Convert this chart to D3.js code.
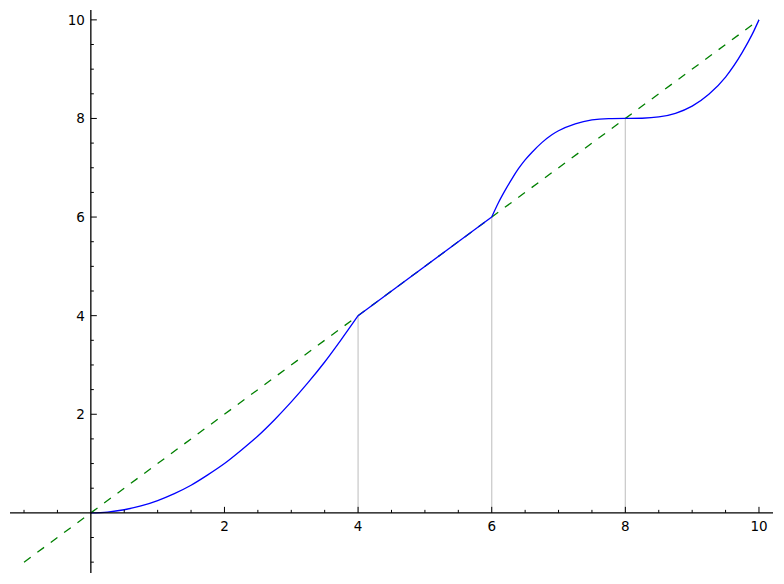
<!DOCTYPE html>
<html>
<head>
<meta charset="utf-8">
<script src="https://cdn.jsdelivr.net/npm/d3@7.9.0/dist/d3.min.js"></script>
<style>
  html, body { margin: 0; padding: 0; background: #fff; }
  svg text { font-family: "DejaVu Sans", sans-serif; font-size: 13.5px; fill: #000; }
</style>
</head>
<body>
<svg id="chart" width="784" height="584"></svg>
<script>
// blue curve
const piece1 = [
  [0, 0], [0.25, 0.016], [0.5, 0.063], [0.75, 0.14], [1, 0.25], [1.25, 0.39],
  [1.5, 0.56], [1.75, 0.77], [2, 1.0], [2.25, 1.27], [2.5, 1.56], [2.75, 1.89],
  [3, 2.25], [3.25, 2.64], [3.5, 3.06], [3.75, 3.52], [4, 4]
];
const piece2 = [[4, 4], [6, 6]];
const piece3 = [
  [6, 6], [6.1, 6.29], [6.2, 6.54], [6.3, 6.77], [6.4, 6.98], [6.5, 7.16],
  [6.6, 7.31], [6.75, 7.51], [6.9, 7.67], [7, 7.75], [7.25, 7.89], [7.5, 7.97],
  [7.75, 7.996], [8, 8]
];
const piece4 = [
  [8, 8], [8.25, 8.004], [8.5, 8.03], [8.75, 8.105], [9, 8.25], [9.25, 8.49],
  [9.5, 8.84], [9.75, 9.34], [9.9, 9.71], [10, 10]
];
const curvePieces = [piece1, piece2, piece3, piece4];

// green dashed diagonal
const diagonal = [[-1, -1], [10, 10]];

// grey drop lines
const dropX = [4, 6, 8];
const dropY = [4, 6, 8];

const majorTicks = [2, 4, 6, 8, 10];
const minorTicks = [-1, -0.5, 0.5, 1, 1.5, 2.5, 3, 3.5, 4.5, 5, 5.5, 6.5, 7, 7.5, 8.5, 9, 9.5];

const svg = d3.select('#chart');

const x = d3.scaleLinear().domain([-1.21, 10.21]).range([10, 773]);
const y = d3.scaleLinear().domain([-1.22, 10.2]).range([573, 10]);

const line = d3.line()
  .x(d => x(d[0]))
  .y(d => y(d[1]))
  .curve(d3.curveMonotoneX);

// drop lines
svg.append('g')
  .selectAll('line')
  .data(dropX)
  .join('line')
  .attr('x1', d => x(d))
  .attr('x2', d => x(d))
  .attr('y1', y(0))
  .attr('y2', (d, i) => y(dropY[i]))
  .attr('stroke', '#cccccc')
  .attr('stroke-width', 1.3);

// diagonal
svg.append('path')
  .datum(diagonal)
  .attr('d', d3.line().x(d => x(d[0])).y(d => y(d[1])))
  .attr('fill', 'none')
  .attr('stroke', '#008000')
  .attr('stroke-width', 1.3)
  .attr('stroke-dasharray', '8.3,8.3');

// blue curve
svg.append('g')
  .selectAll('path')
  .data(curvePieces)
  .join('path')
  .attr('d', line)
  .attr('fill', 'none')
  .attr('stroke', '#0000ff')
  .attr('stroke-width', 1.3);

// axes crossing at origin
const xAxis = svg.append('g').attr('transform', `translate(0,${y(0)})`);
xAxis.append('line')
  .attr('x1', x.range()[0]).attr('x2', x.range()[1])
  .attr('stroke', '#000').attr('stroke-width', 1.3);
xAxis.selectAll('.minor')
  .data(minorTicks)
  .join('line')
  .attr('class', 'minor')
  .attr('x1', d => x(d)).attr('x2', d => x(d))
  .attr('y1', 0).attr('y2', -3)
  .attr('stroke', '#000').attr('stroke-width', 1);
xAxis.selectAll('.major')
  .data(majorTicks)
  .join('line')
  .attr('class', 'major')
  .attr('x1', d => x(d)).attr('x2', d => x(d))
  .attr('y1', 0).attr('y2', -6)
  .attr('stroke', '#000').attr('stroke-width', 1);
xAxis.selectAll('text')
  .data(majorTicks)
  .join('text')
  .attr('x', d => x(d))
  .attr('y', 18)
  .attr('text-anchor', 'middle')
  .text(d => d);

const yAxis = svg.append('g').attr('transform', `translate(${x(0)},0)`);
yAxis.append('line')
  .attr('y1', y.range()[0]).attr('y2', y.range()[1])
  .attr('stroke', '#000').attr('stroke-width', 1.3);
yAxis.selectAll('.minor')
  .data(minorTicks)
  .join('line')
  .attr('class', 'minor')
  .attr('y1', d => y(d)).attr('y2', d => y(d))
  .attr('x1', 0).attr('x2', 3)
  .attr('stroke', '#000').attr('stroke-width', 1);
yAxis.selectAll('.major')
  .data(majorTicks)
  .join('line')
  .attr('class', 'major')
  .attr('y1', d => y(d)).attr('y2', d => y(d))
  .attr('x1', 0).attr('x2', 6)
  .attr('stroke', '#000').attr('stroke-width', 1);
yAxis.selectAll('text')
  .data(majorTicks)
  .join('text')
  .attr('x', -6)
  .attr('y', d => y(d))
  .attr('dy', '0.36em')
  .attr('text-anchor', 'end')
  .text(d => d);
</script>
</body>
</html>
